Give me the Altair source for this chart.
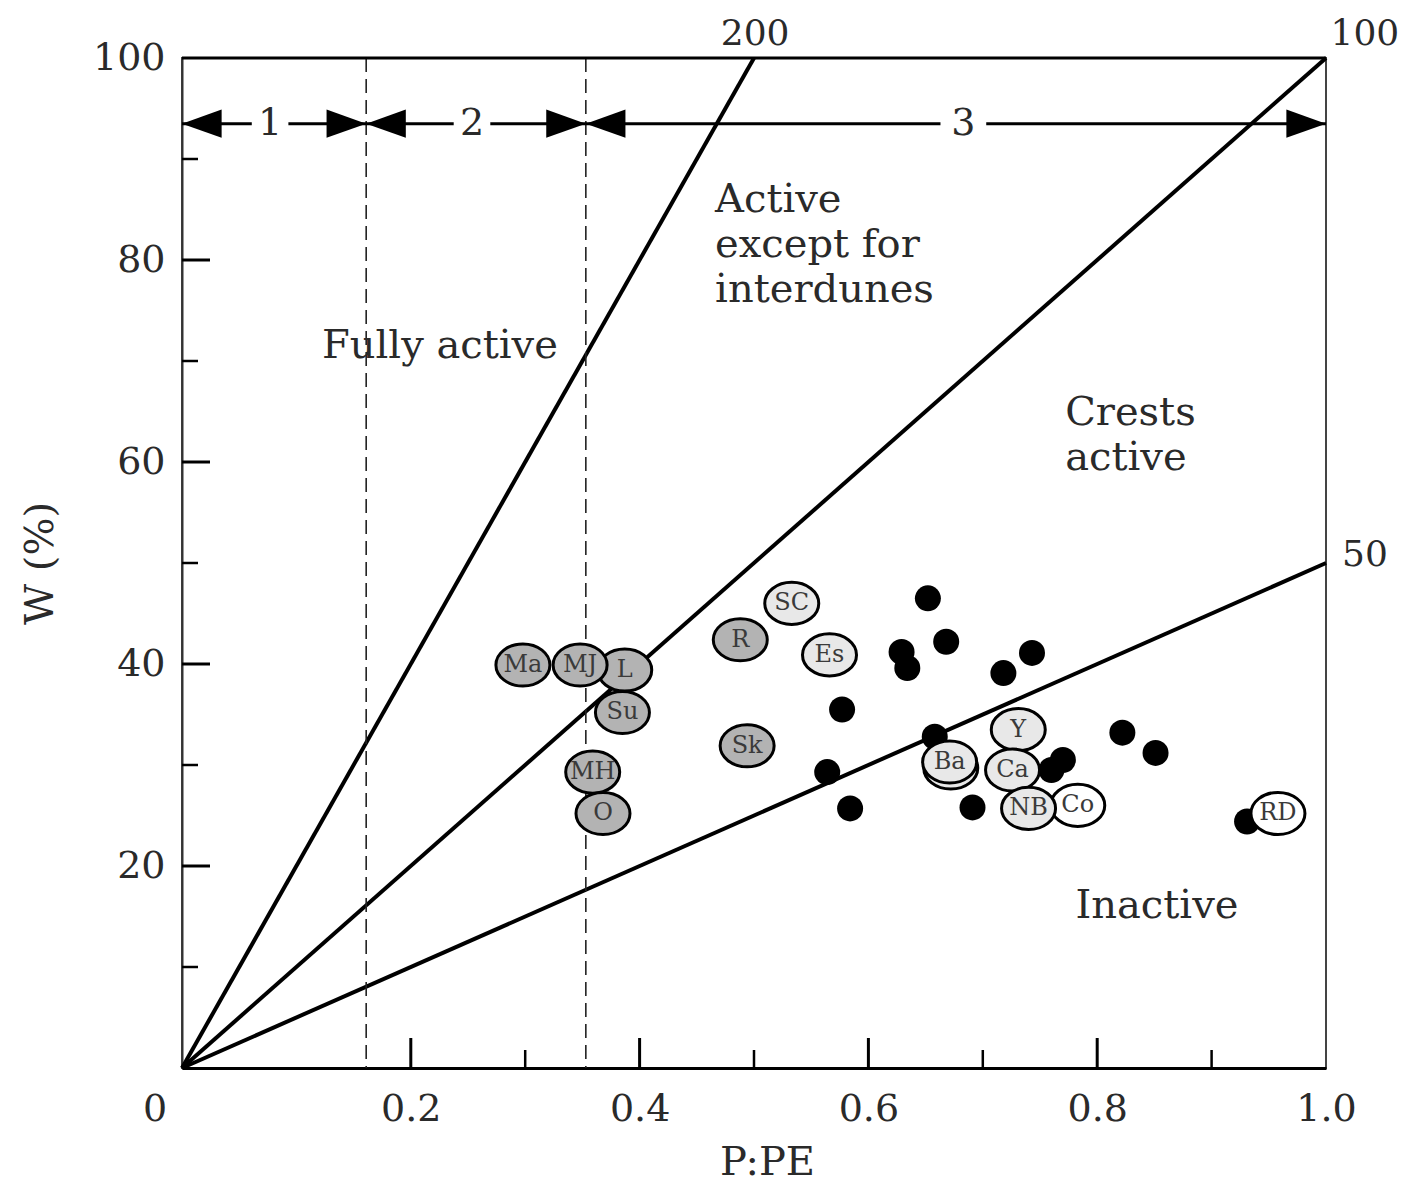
import altair as alt
import pandas as pd

FONT = "DejaVu Serif"
TXT = "#2a2a2a"

# ---- data ----
site_labels = ["Ma", "L", "MJ", "Su", "MH", "O", "R", "Sk",
               "SC", "Es", "", "Ba", "Y", "Ca", "Co", "NB", "RD"]
site_x = [0.298, 0.387, 0.348, 0.385, 0.359, 0.368, 0.488, 0.494,
          0.533, 0.566, 0.672, 0.671, 0.731, 0.726, 0.783, 0.740, 0.958]
site_y = [39.9, 39.4, 39.9, 35.2, 29.3, 25.2, 42.4, 31.9,
          46.0, 40.9, 29.7, 30.3, 33.5, 29.5, 26.0, 25.7, 25.2]
site_tone = ["dark", "dark", "dark", "dark", "dark", "dark", "dark", "dark",
             "light", "light", "light", "light", "light", "light", "white", "light", "white"]

dot_x = [0.652, 0.629, 0.634, 0.668, 0.743, 0.718, 0.577, 0.658,
         0.564, 0.770, 0.760, 0.822, 0.851, 0.584, 0.691, 0.931]
dot_y = [46.5, 41.2, 39.6, 42.2, 41.1, 39.1, 35.5, 32.8,
         29.3, 30.5, 29.5, 33.2, 31.2, 25.7, 25.8, 24.4]

slopes = [200, 100, 50]
slope_labels = ["200", "100", "50"]
slope_label_x = [0.501, 1.034, 1.034]
slope_label_y = [102.4, 102.4, 50.8]

zone_bounds = [0.0, 0.161, 0.353, 1.0]
zone_names = ["1", "2", "3"]
zone_label_x = [0.077, 0.2535, 0.683]
zone_gap = [0.016, 0.016, 0.02]
arrow_level = 93.5

region_text = ["Fully active", "Active\nexcept for\ninterdunes", "Crests\nactive", "Inactive"]
region_x = [0.1224, 0.466, 0.772, 0.781]
region_y = [70.3, 84.75, 63.7, 14.85]

x_major = [0.2, 0.4, 0.6, 0.8]
x_minor = [0.3, 0.5, 0.7, 0.9]
y_major = [20, 40, 60, 80]
y_minor = [10, 30, 50, 70, 90]
x_labels = [0.2, 0.4, 0.6, 0.8, 1.0]
y_labels = [20, 40, 60, 80, 100]

W, H = 1144, 1010

# ---- tables ----
sites = pd.DataFrame({"label": site_labels, "x": site_x, "y": site_y, "tone": site_tone})
sites["idx"] = range(len(sites))
dots = pd.DataFrame({"x": dot_x, "y": dot_y})

line_rows = []
for k in slopes:
    xe = min(1.0, 100.0 / k)
    line_rows.append({"k": str(k), "x": 0.0, "y": 0.0})
    line_rows.append({"k": str(k), "x": xe, "y": k * xe})
lines = pd.DataFrame(line_rows)

slope_txt = pd.DataFrame({"t": slope_labels, "x": slope_label_x, "y": slope_label_y})

seg_rows, head_rows, zlab_rows = [], [], []
for i, nm in enumerate(zone_names):
    a, b = zone_bounds[i], zone_bounds[i + 1]
    c, g = zone_label_x[i], zone_gap[i]
    seg_rows.append({"x": a, "x2": c - g, "y": arrow_level})
    seg_rows.append({"x": c + g, "x2": b, "y": arrow_level})
    head_rows.append({"x": a, "y": arrow_level, "dir": "left"})
    head_rows.append({"x": b, "y": arrow_level, "dir": "right"})
    zlab_rows.append({"t": nm, "x": c, "y": arrow_level})
segs = pd.DataFrame(seg_rows)
heads = pd.DataFrame(head_rows)
zlabs = pd.DataFrame(zlab_rows)

regions = pd.DataFrame({"t": region_text, "x": region_x, "y": region_y})
dashed = pd.DataFrame({"x": zone_bounds[1:3]})
xt_major = pd.DataFrame({"x": x_major})
xt_minor = pd.DataFrame({"x": x_minor})
yt_major = pd.DataFrame({"y": y_major})
yt_minor = pd.DataFrame({"y": y_minor})
zero = pd.DataFrame({"t": ["0"], "x": [0.0], "y": [0.0]})

xs = alt.Scale(domain=[0, 1], nice=False, zero=False)
ys = alt.Scale(domain=[0, 100], nice=False, zero=False)


def X(field="x"):
    return alt.X(f"{field}:Q", scale=xs, axis=alt.Axis(
        values=x_labels, format=".1f", ticks=False, grid=False, labelFlush=False,
        labelOverlap=False, labelFont=FONT, labelFontSize=38, labelColor=TXT,
        labelPadding=22, domainColor="black", domainWidth=3,
        title="P:PE", titleFont=FONT, titleFontSize=40, titleFontWeight="normal",
        titleColor=TXT, titlePadding=14, titleX=585))


def Y(field="y"):
    return alt.Y(f"{field}:Q", scale=ys, axis=alt.Axis(
        values=y_labels, format="d", ticks=False, grid=False, labelFlush=False,
        labelOverlap=False, labelFont=FONT, labelFontSize=38, labelColor=TXT,
        labelPadding=17, domainColor="#333", domainWidth=2,
        title="W (%)", titleFont=FONT, titleFontSize=40, titleFontWeight="normal",
        titleColor=TXT, titlePadding=32))


ELLIPSE = "M-1,0A1,0.78,0,1,1,1,0A1,0.78,0,1,1,-1,0Z"
HEAD_L = "M0,0L2.2,-0.78L2.2,0.78Z"
HEAD_R = "M0,0L-2.2,-0.78L-2.2,0.78Z"

line_layer = alt.Chart(lines).mark_line(color="black", strokeWidth=4).encode(
    x=X(), y=Y(), detail="k:N")

dash_layer = alt.Chart(dashed).mark_rule(color="#222", strokeWidth=1.6, strokeDash=[14, 7]).encode(
    x=X(), y=alt.value(0), y2=alt.value(H))

xmaj = alt.Chart(xt_major).mark_rule(color="black", strokeWidth=3).encode(
    x=X(), y=alt.value(H), y2=alt.value(H - 30))
xmin = alt.Chart(xt_minor).mark_rule(color="black", strokeWidth=2.5).encode(
    x=X(), y=alt.value(H), y2=alt.value(H - 18))
ymaj = alt.Chart(yt_major).mark_rule(color="black", strokeWidth=3).encode(
    y=Y(), x=alt.value(0), x2=alt.value(28))
ymin = alt.Chart(yt_minor).mark_rule(color="black", strokeWidth=2.5).encode(
    y=Y(), x=alt.value(0), x2=alt.value(16))

top_rule = alt.Chart(zero).mark_rule(color="black", strokeWidth=3).encode(
    x=alt.value(0), x2=alt.value(W), y=alt.value(0))

seg_layer = alt.Chart(segs).mark_rule(color="black", strokeWidth=3).encode(
    x=X(), x2="x2:Q", y=Y())
head_layer = alt.Chart(heads).mark_point(filled=True, size=1296, opacity=1, color="black").encode(
    x=X(), y=Y(),
    shape=alt.Shape("dir:N", scale=alt.Scale(domain=["left", "right"], range=[HEAD_L, HEAD_R]), legend=None))
zlab_layer = alt.Chart(zlabs).mark_text(font=FONT, fontSize=38, color=TXT, baseline="middle").encode(
    x=X(), y=Y(), text="t:N")

dot_layer = alt.Chart(dots).mark_circle(size=676, color="black", opacity=1).encode(x=X(), y=Y())

site_layer = alt.Chart(sites).mark_point(
    shape=ELLIPSE, size=2916, filled=True, opacity=1, stroke="black", strokeWidth=3).encode(
    x=X(), y=Y(),
    color=alt.Color("tone:N", scale=alt.Scale(domain=["dark", "light", "white"],
                                             range=["#b3b3b3", "#e8e8e8", "#ffffff"]), legend=None),
    order=alt.Order("idx:Q"))

site_txt = alt.Chart(sites).mark_text(font=FONT, fontSize=24, color="#3a3a3a", baseline="middle").encode(
    x=X(), y=Y(), text="label:N")

region_layer = alt.Chart(regions).mark_text(
    font=FONT, fontSize=40, color=TXT, align="left", baseline="alphabetic", lineBreak="\n",
    lineHeight=45).encode(x=X(), y=Y(), text="t:N")

slope_layer = alt.Chart(slope_txt).mark_text(font=FONT, fontSize=36, color=TXT, baseline="middle").encode(
    x=X(), y=Y(), text="t:N")

zero_layer = alt.Chart(zero).mark_text(font=FONT, fontSize=38, color=TXT, baseline="middle",
                                       dx=-27, dy=42).encode(x=X(), y=Y(), text="t:N")

chart = alt.layer(
    line_layer, dash_layer, xmaj, xmin, ymaj, ymin, top_rule,
    seg_layer, head_layer, zlab_layer,
    dot_layer, site_layer, site_txt,
    region_layer, slope_layer, zero_layer,
).properties(
    width=W, height=H,
    autosize=alt.AutoSizeParams(type="none"),
    padding={"left": 174, "top": 50, "right": 86, "bottom": 115},
    background="white",
).configure_view(stroke="#444", strokeWidth=2)

chart.save("out.html", embed_options={"renderer": "svg", "actions": False})
